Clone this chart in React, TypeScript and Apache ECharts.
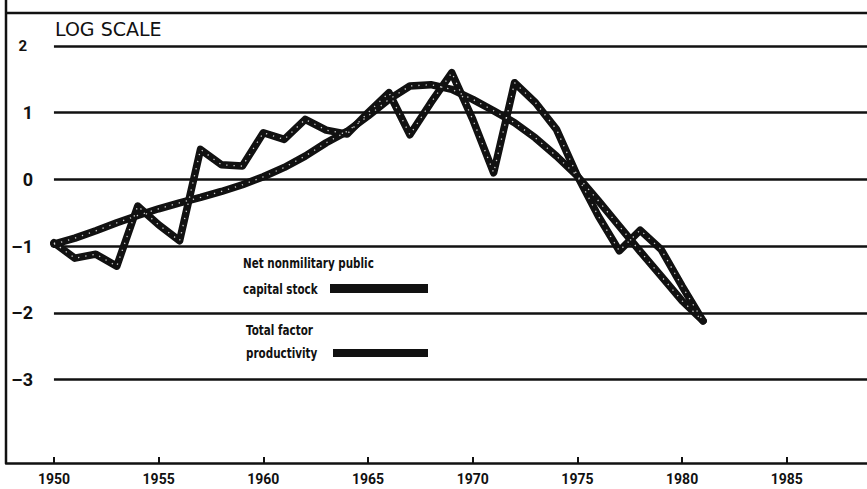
import React, { useEffect, useRef } from "react";
import * as echarts from "echarts";

const years: number[] = [
  1950, 1951, 1952, 1953, 1954, 1955, 1956, 1957, 1958, 1959, 1960, 1961, 1962, 1963, 1964, 1965,
  1966, 1967, 1968, 1969, 1970, 1971, 1972, 1973, 1974, 1975, 1976, 1977, 1978, 1979, 1980, 1981,
];
// Net nonmilitary public capital stock (smooth line)
const capitalStock: number[] = [
  -0.97, -0.88, -0.77, -0.65, -0.54, -0.44, -0.35, -0.27, -0.18, -0.08, 0.04, 0.18, 0.35, 0.55,
  0.72, 0.95, 1.2, 1.4, 1.42, 1.35, 1.2, 1.03, 0.85, 0.62, 0.35, 0.05, -0.32, -0.7, -1.08, -1.45,
  -1.82, -2.12,
];
// Total factor productivity (jagged line)
const tfp: number[] = [
  -0.95, -1.18, -1.12, -1.3, -0.4, -0.68, -0.92, 0.45, 0.22, 0.2, 0.7, 0.6, 0.9, 0.74, 0.68, 1.0,
  1.3, 0.67, 1.15, 1.6, 0.9, 0.1, 1.45, 1.15, 0.75, 0.05, -0.55, -1.07, -0.76, -1.05, -1.6, -2.12,
];
const xTicks: number[] = [1950, 1955, 1960, 1965, 1970, 1975, 1980, 1985];
const yTicks: number[] = [-3, -2, -1, 0, 1, 2];

const X_MIN = 1947.71;
const X_MAX = 1988.83;
const Y_MIN = -4.25;
const Y_MAX = 2;

const sans = "Roboto, 'DejaVu Sans', sans-serif";

export default function App() {
  const ref = useRef<HTMLDivElement>(null);
  useEffect(() => {
    if (!ref.current) return;
    const chart = echarts.init(ref.current, null, { renderer: "svg" });
    const pairs = (vals: number[]) => years.map((y, i) => [y, vals[i]]);
    const lineSeries = (name: string, vals: number[]) => [
      {
        name,
        type: "line",
        data: pairs(vals),
        symbol: "none",
        silent: true,
        z: 5,
        lineStyle: { color: "#111", width: 7.5, join: "round", cap: "round" },
      },
      {
        name: name + "-dots",
        type: "line",
        data: pairs(vals),
        symbol: "none",
        silent: true,
        z: 6,
        lineStyle: { color: "#ffffff", width: 1.3, type: [1.3, 6], opacity: 0.8 },
      },
    ];
    const legendText = (text: string, x: number, y: number) => ({
      type: "text",
      x,
      y,
      scaleX: 0.8,
      scaleY: 1.08,
      style: { text, fill: "#111", font: "bold 13px 'DejaVu Sans', sans-serif", textVerticalAlign: "middle" },
    });
    chart.setOption({
      animation: false,
      backgroundColor: "#ffffff",
      grid: { left: 6, right: 0, top: 46, bottom: 26, containLabel: false },
      xAxis: {
        type: "value",
        min: X_MIN,
        max: X_MAX,
        axisLine: { show: true, onZero: false, lineStyle: { color: "#111", width: 2.5 } },
        axisTick: {
          show: true,
          inside: true,
          length: 6,
          customValues: xTicks,
          lineStyle: { color: "#111", width: 2 },
        },
        axisLabel: {
          show: true,
          customValues: xTicks,
          margin: 9,
          color: "#111",
          fontFamily: sans,
          fontWeight: "bold",
          fontSize: 14,
          formatter: (v: number) => String(Math.round(v)),
        },
        splitLine: { show: false },
      },
      yAxis: {
        type: "value",
        min: Y_MIN,
        max: Y_MAX,
        axisLine: { show: false },
        axisTick: { show: false },
        axisLabel: {
          show: true,
          inside: true,
          customValues: yTicks,
          margin: 27,
          align: "right",
          verticalAlign: "middle",
          color: "#111",
          fontFamily: sans,
          fontWeight: "bold",
          fontSize: 18,
          formatter: (v: number) =>
            v === 2 ? "{s|2}" : v < 0 ? "\u2013" + Math.abs(v) : String(v),
          rich: {
            s: {
              fontFamily: sans,
              fontWeight: "bold",
              fontSize: 15,
              color: "#111",
              padding: [0, 6, 0, 0],
            },
          },
        },
        splitLine: { show: false },
      },
      series: [
        {
          name: "grid",
          type: "line",
          data: [],
          silent: true,
          z: 1,
          markLine: {
            silent: true,
            symbol: "none",
            animation: false,
            label: { show: false },
            lineStyle: { color: "#111", width: 2.5, type: "solid" },
            data: yTicks.map((v) => [{ coord: [1950, v] }, { coord: [X_MAX, v] }]),
          },
        },
        ...lineSeries("Total factor productivity", tfp),
        ...lineSeries("Net nonmilitary public capital stock", capitalStock),
      ],
      graphic: [
        { type: "line", shape: { x1: 6, y1: 0, x2: 6, y2: 463 }, style: { stroke: "#111", lineWidth: 2.5 } },
        { type: "line", shape: { x1: 6, y1: 13, x2: 867, y2: 13 }, style: { stroke: "#111", lineWidth: 2.5 } },
        {
          type: "text",
          left: 55,
          top: 19,
          style: { text: "LOG SCALE", fill: "#111", font: "19px 'DejaVu Sans', sans-serif" },
        },
        legendText("Net nonmilitary public", 243, 263),
        legendText("capital stock", 243, 289),
        { type: "rect", shape: { x: 330, y: 284, width: 98, height: 9 }, style: { fill: "#111" } },
        legendText("Total factor", 246, 330),
        legendText("productivity", 246, 353),
        { type: "rect", shape: { x: 333, y: 349, width: 95, height: 8 }, style: { fill: "#111" } },
      ],
    });
    return () => chart.dispose();
  }, []);
  return (
    <div
      ref={ref}
      style={{ position: "fixed", left: 0, top: 0, width: 867, height: 489, background: "#fff" }}
    />
  );
}
